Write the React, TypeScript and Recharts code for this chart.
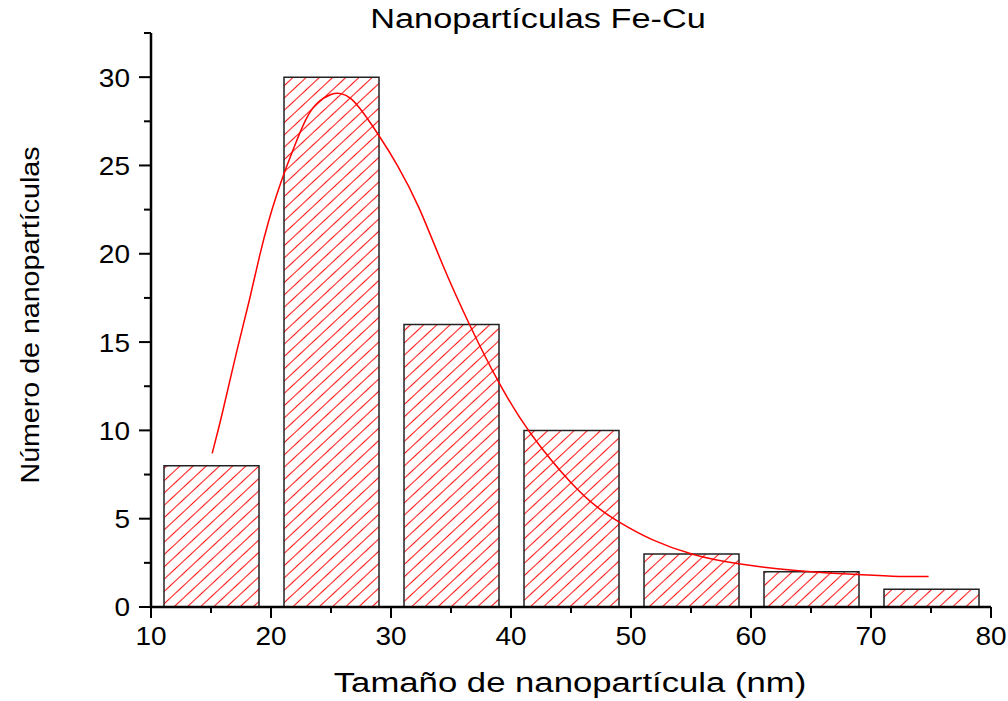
import { ComposedChart, Bar, Line, XAxis, YAxis } from 'recharts';

// histogram bins (bin centre, nm) and counts
const binCenters = [15, 25, 35, 45, 55, 65, 75];
const binCounts = [8, 30, 16, 10, 3, 2, 1];

// fitted distribution curve
const curveX = [15.1, 15.9, 17.2, 18.3, 19.0, 19.8, 20.5, 21.1, 21.9, 22.9, 23.8, 25.1, 25.8, 26.6, 27.6, 29.0, 30.5, 32.3, 34.3, 36.5, 39.0, 41.5, 45.2, 47.4, 49.0, 51.6, 55.2, 58.8, 63.5, 68.3, 71.9, 74.8];
const curveY = [8.7, 10.8, 14.7, 17.6, 19.8, 21.9, 23.4, 24.6, 26.0, 27.7, 28.6, 29.1, 29.1, 28.9, 28.1, 26.7, 25.1, 22.8, 19.3, 16.0, 12.6, 9.8, 6.8, 5.5, 4.8, 3.8, 2.9, 2.43, 2.05, 1.85, 1.72, 1.72];

const xTicks = [10, 15, 20, 25, 30, 35, 40, 45, 50, 55, 60, 65, 70, 75, 80];
const yTicks = [0, 2.5, 5, 7.5, 10, 12.5, 15, 17.5, 20, 22.5, 25, 27.5, 30, 32.5];

const title = 'Nanopartículas Fe-Cu';
const xLabel = 'Tamaño de nanopartícula (nm)';
const yLabel = 'Número de nanopartículas';

const barData = binCenters.map((x, i) => ({ x, count: binCounts[i] }));
const curveData = curveX.map((x, i) => ({ x, y: curveY[i] }));

const FONT = '"Liberation Sans", Arial, sans-serif';

const XTick = (props: any) => {
    const { x, y, payload } = props;
    const major = payload.value % 10 === 0;
    return (
        <g>
            <line x1={x} y1={y} x2={x} y2={y + (major ? 11 : 6)} stroke="#000" strokeWidth={2} />
            {major && (
                <text
                    transform={`translate(${x},${y + 30}) scale(1.12,1)`}
                    textAnchor="middle"
                    dominantBaseline="central"
                    fontFamily={FONT}
                    fontSize={25}
                    fill="#000"
                >
                    {payload.value}
                </text>
            )}
        </g>
    );
};

const YTick = (props: any) => {
    const { x, y, payload } = props;
    const major = payload.value % 5 === 0;
    return (
        <g>
            <line x1={x} y1={y} x2={x - (major ? 12 : 7)} y2={y} stroke="#000" strokeWidth={2} />
            {major && (
                <text
                    transform={`translate(${x - 21},${y + 1}) scale(1.12,1)`}
                    textAnchor="end"
                    dominantBaseline="central"
                    fontFamily={FONT}
                    fontSize={25}
                    fill="#000"
                >
                    {payload.value}
                </text>
            )}
        </g>
    );
};

export default function App() {
    return (
        <div style={{ position: 'absolute', left: 0, top: 0, width: 1008, height: 701, background: '#fff' }}>
            <ComposedChart
                width={1008}
                height={701}
                data={barData}
                margin={{ top: 33, right: 17, bottom: 34, left: 0 }}
            >
                <defs>
                    <pattern id="hatch" patternUnits="userSpaceOnUse" width={14} height={9} patternTransform="rotate(-43)">
                        <line x1={0} y1={4.5} x2={14} y2={4.5} stroke="#ff1a1a" strokeWidth={1.1} />
                    </pattern>
                </defs>
                <XAxis
                    xAxisId="num"
                    dataKey="x"
                    type="number"
                    domain={[10, 80]}
                    ticks={xTicks}
                    interval={0}
                    allowDataOverflow
                    height={60}
                    axisLine={{ stroke: '#000', strokeWidth: 2.5 }}
                    tickLine={false}
                    tickSize={0}
                    tickMargin={0}
                    tick={<XTick />}
                />
                <XAxis xAxisId="bins" dataKey="x" type="category" hide height={0} />
                <YAxis
                    type="number"
                    domain={[0, 32.5]}
                    ticks={yTicks}
                    interval={0}
                    allowDataOverflow
                    width={151}
                    axisLine={{ stroke: '#000', strokeWidth: 2.5 }}
                    tickLine={false}
                    tickSize={0}
                    tickMargin={0}
                    tick={<YTick />}
                />
                <Bar
                    xAxisId="bins"
                    dataKey="count"
                    barSize={95}
                    fill="url(#hatch)"
                    stroke="#222"
                    strokeWidth={1.5}
                    isAnimationActive={false}
                />
                <Line
                    xAxisId="num"
                    data={curveData}
                    dataKey="y"
                    type="basis"
                    stroke="#ff0000"
                    strokeWidth={1.5}
                    dot={false}
                    activeDot={false}
                    isAnimationActive={false}
                />
            </ComposedChart>
            <svg
                width={1008}
                height={701}
                style={{ position: 'absolute', left: 0, top: 0, pointerEvents: 'none' }}
            >
                <text
                    transform="translate(538,28) scale(1.27,1)"
                    textAnchor="middle"
                    fontFamily={FONT}
                    fontSize={27}
                    fill="#000"
                >
                    {title}
                </text>
                <text
                    transform="translate(570,691.5) scale(1.24,1)"
                    textAnchor="middle"
                    fontFamily={FONT}
                    fontSize={28}
                    fill="#000"
                >
                    {xLabel}
                </text>
                <text
                    transform="translate(38.5,315) rotate(-90) scale(1.1,1)"
                    textAnchor="middle"
                    fontFamily={FONT}
                    fontSize={26}
                    fill="#000"
                >
                    {yLabel}
                </text>
            </svg>
        </div>
    );
}
